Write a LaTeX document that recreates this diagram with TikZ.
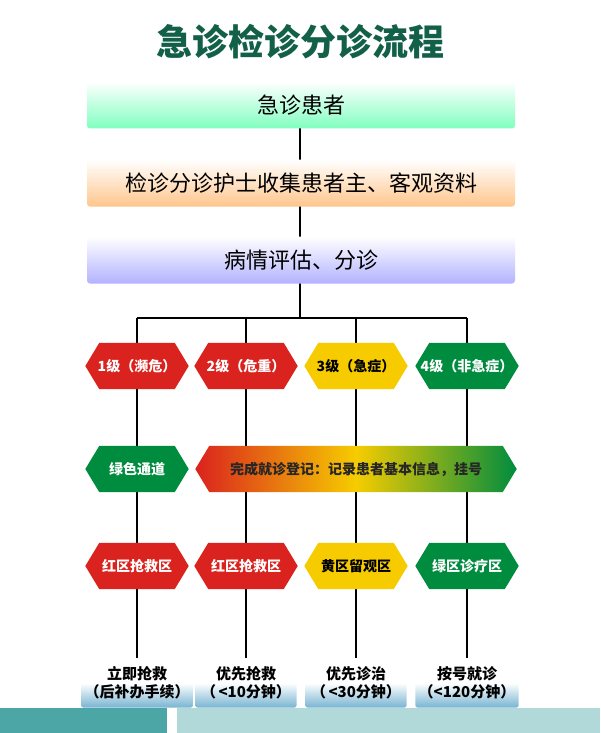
\documentclass[tikz,border=0pt]{standalone}
\usepackage{fontspec}
\setmainfont{Noto Sans CJK SC}
\definecolor{jred}{RGB}{218,34,30}
\definecolor{jyel}{RGB}{246,204,0}
\definecolor{jgrn}{RGB}{0,140,62}
\definecolor{jtitle}{RGB}{18,96,72}
\definecolor{jblue}{RGB}{120,180,210}
\pgfdeclarelayer{back}
\pgfdeclarelayer{mid}
\pgfsetlayers{back,mid,main}
\tikzset{
  bar/.style = {rounded corners=3pt, minimum width=428pt, minimum height=47pt,
    font=\fontsize{22}{24}\selectfont},
  hexa/.style = {minimum width=103pt, minimum height=46pt, inner sep=0pt,
    font=\fontsize{14}{16}\selectfont\bfseries, text=white},
  endbox/.style = {rounded corners=2pt, minimum width=101pt, minimum height=49pt,
    top color=white, bottom color=jblue, middle color=white,
    align=center, font=\fontsize{15}{18}\selectfont\bfseries},
  line/.style = {line width=2.6pt, black}
}
% hexagon behind a node
\newcommand\hexfill[2]{%
  \begin{pgfonlayer}{mid}
  \path[#2] ([xshift=14pt]#1.north west) -- ([xshift=-14pt]#1.north east) -- (#1.east)
    -- ([xshift=-14pt]#1.south east) -- ([xshift=14pt]#1.south west) -- (#1.west) -- cycle;
  \end{pgfonlayer}}
\begin{document}
\begin{tikzpicture}[x=1pt, y=-1pt]
  \useasboundingbox (0,0) rectangle (600,733);

  \node (title) at (300,42) [text=jtitle, font=\fontsize{36}{38}\selectfont\bfseries] {急诊检诊分诊流程};

  % trunk and branches
  \begin{pgfonlayer}{back}
  \fill[white] (0,0) rectangle (600,733);
  \coordinate (fork) at (300,318);
  \foreach \n/\x in {a/137, b/246, c/356, d/467}
    \coordinate (top\n) at (\x,318);
  \draw[line] (300,105) -- (fork);
  \draw[line] (topa) -- (topd);
  \foreach \n in {a,b,c,d}
    \draw[line] (top\n) -- ++(0,340);
  \end{pgfonlayer}

  \node (patient) at (301,105) [bar, top color=white, bottom color=green!50!cyan!50] {急诊患者};
  \node (collect) at (301,183) [bar, top color=white, bottom color=orange!45] {检诊分诊护士收集患者主、客观资料};
  \node (assess) at (301,260) [bar, top color=white, bottom color=blue!30] {病情评估、分诊};

  % levels
  \node (lv1) at (137,366) [hexa] {1级（濒危）};
  \node (lv2) at (246,366) [hexa] {2级（危重）};
  \node (lv3) at (356,366) [hexa, text=black] {3级（急症）};
  \node (lv4) at (467,366) [hexa] {4级（非急症）};
  \hexfill{lv1}{fill=jred}
  \hexfill{lv2}{fill=jred}
  \hexfill{lv3}{fill=jyel}
  \hexfill{lv4}{fill=jgrn}

  \node (green) at (137,469) [hexa] {绿色通道};
  \node (reg) at (356,469) [hexa, minimum width=321pt, text=black!85] {完成就诊登记：记录患者基本信息，挂号};
  \hexfill{green}{fill=jgrn}
  \hexfill{reg}{left color=jred, right color=jgrn, middle color=jyel}

  % zones
  \node (zone1) at (137,566) [hexa] {红区抢救区};
  \node (zone2) at (246,566) [hexa] {红区抢救区};
  \node (zone3) at (356,566) [hexa, text=black] {黄区留观区};
  \node (zone4) at (467,566) [hexa] {绿区诊疗区};
  \hexfill{zone1}{fill=jred}
  \hexfill{zone2}{fill=jred}
  \hexfill{zone3}{fill=jyel}
  \hexfill{zone4}{fill=jgrn}

  \node (act1) at (137,683) [endbox] {立即抢救\\（后补办手续）};
  \node (act2) at (246,683) [endbox] {优先抢救\\（\,<10分钟）};
  \node (act3) at (356,683) [endbox] {优先诊治\\（\,<30分钟）};
  \node (act4) at (467,683) [endbox] {按号就诊\\（<120分钟）};

  \fill[teal!70!white] (0,708) rectangle (167,733);
  \fill[teal!30!white] (177,708) rectangle (600,733);
\end{tikzpicture}
\end{document}
